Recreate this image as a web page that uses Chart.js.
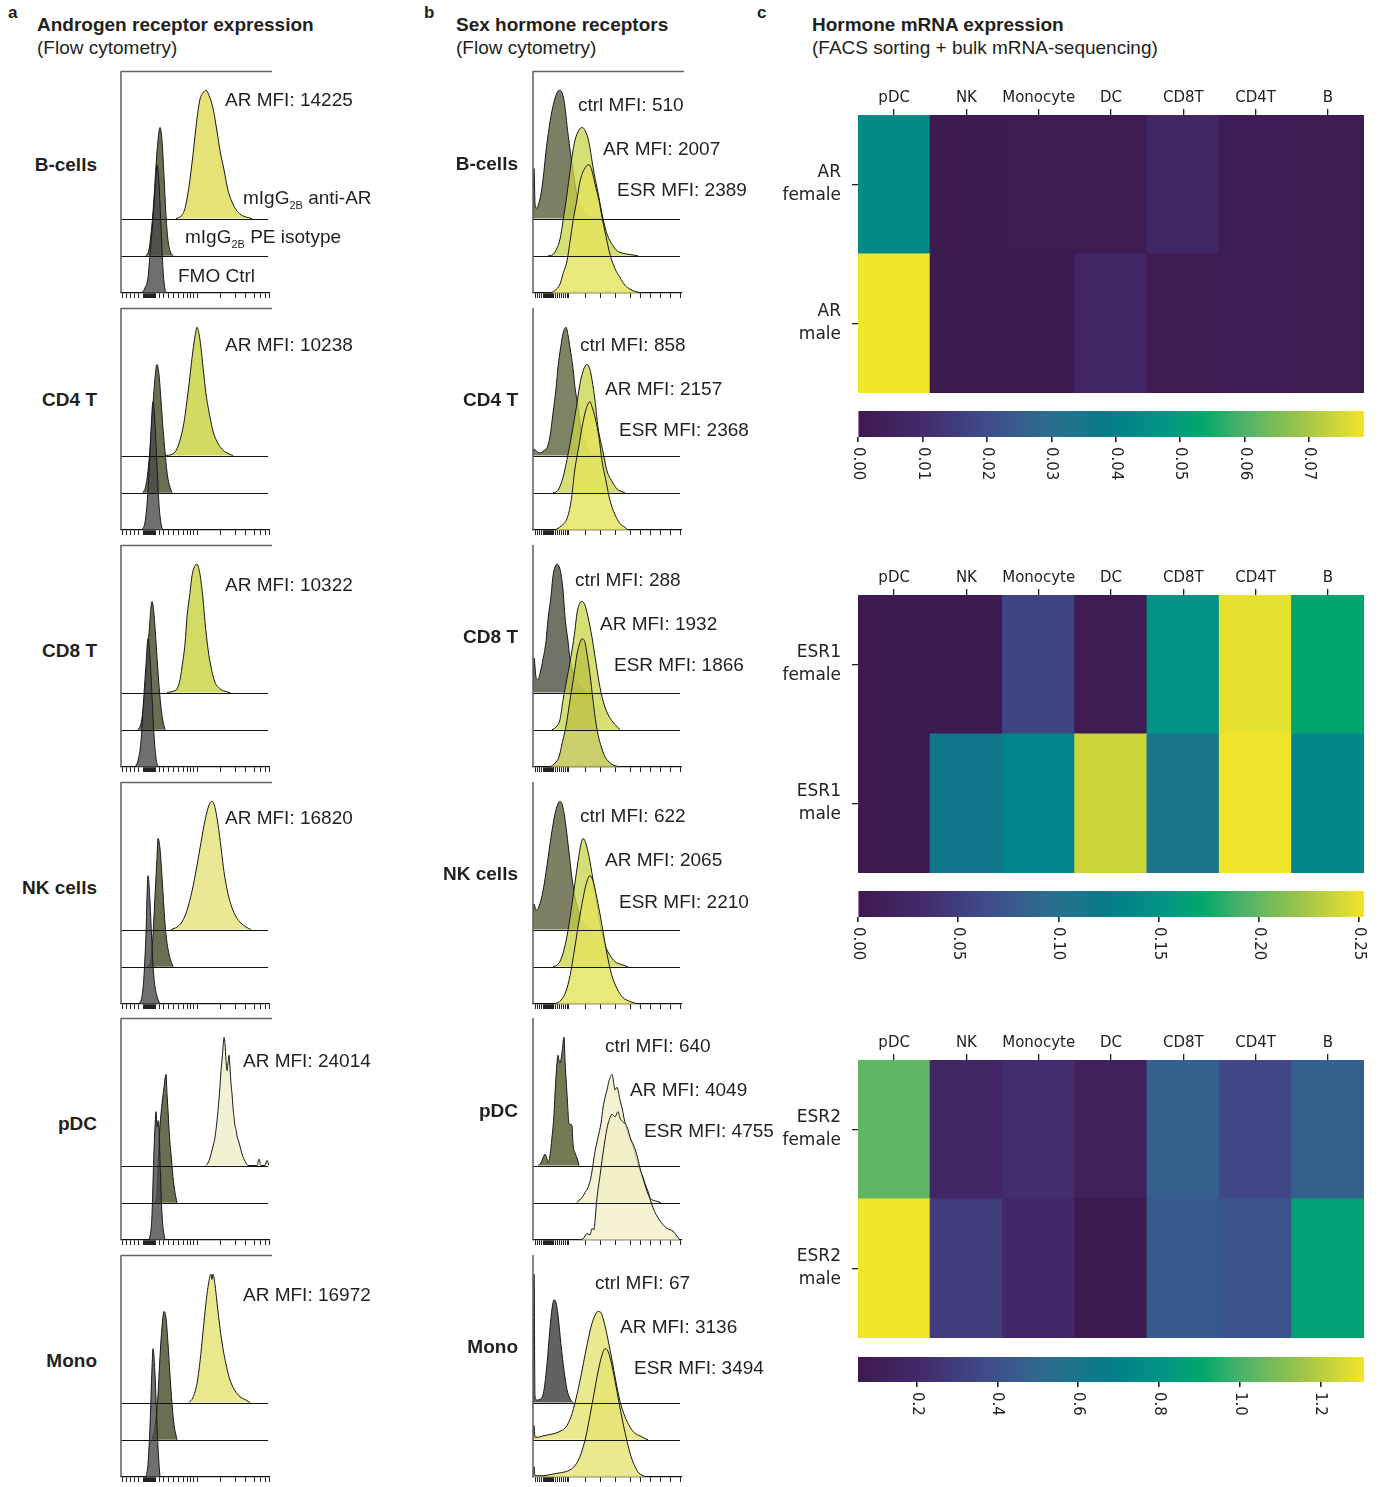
<!DOCTYPE html>
<html><head><meta charset="utf-8">
<script src="https://cdn.jsdelivr.net/npm/chart.js@4.4.0/dist/chart.umd.min.js"></script>
<style>
body{margin:0;background:#fff;}
#root{position:relative;width:1381px;height:1487px;overflow:hidden;font-family:'Liberation Sans',Arial,sans-serif;color:#231f20;}
.t{position:absolute;white-space:nowrap;font-size:19px;line-height:20px;}
.b{font-weight:bold;}
.sub{font-size:11px;position:relative;top:5px;}
canvas{position:absolute;}
</style></head><body><div id="root"></div>
<script>
// ---------------- DATA ----------------
const cellTypes = ['B-cells','CD4 T','CD8 T','NK cells','pDC','Mono'];
const mfiAR_a  = [14225,10238,10322,16820,24014,16972];
const mfiCtrl_b = [510,858,288,622,640,67];
const mfiAR_b   = [2007,2157,1932,2065,4049,3136];
const mfiESR_b  = [2389,2368,1866,2210,4755,3494];

// histogram curves: [fluorescence channel, % of mode]
// panel a: anti-AR / isotype / FMO
const A_B_ar  = [[55,0],[60,2],[64,8],[68,25],[72,50],[76,78],[79,93],[82,98],[85,100],[88,96],[92,86],[96,68],[99,53],[103,38],[107,22],[111,13],[115,7],[120,3],[126,1],[131,0]];
const A_B_iso = [[25,0],[28,5],[31,25],[33,45],[35,70],[37,90],[39,100],[41,90],[43,62],[45,31],[47,12],[49,4],[52,0]];
const A_B_fmo = [[21,0],[24,4],[27,12],[29,30],[32,58],[34,80],[36,100],[38,85],[40,52],[42,18],[44,3],[46,0]];
const A_CD4_ar  = [[44,0],[51,1],[55,4],[59,12],[63,26],[66,43],[69,62],[71,76],[74,93],[76,100],[78,95],[80,84],[82,69],[85,48],[89,30],[92,19],[96,11],[101,5],[106,2],[112,0]];
const A_CD4_iso = [[22,0],[25,6],[28,25],[31,55],[33,80],[36,100],[38,92],[40,72],[42,50],[44,32],[46,16],[48,7],[51,0]];
const A_CD4_fmo = [[21,0],[24,6],[26,20],[28,45],[30,78],[32,100],[34,82],[36,50],[38,20],[40,5],[42,0]];
const A_CD8_ar  = [[46,0],[52,1],[56,3],[59,10],[61,20],[64,38],[66,59],[69,78],[71,91],[74,99],[76,100],[79,92],[82,73],[84,55],[87,34],[90,20],[94,8],[99,3],[104,1],[109,0]];
const A_CD8_iso = [[17,0],[20,5],[23,22],[26,52],[28,75],[31,100],[33,90],[35,68],[37,45],[39,25],[41,11],[44,0]];
const A_CD8_fmo = [[14,0],[17,5],[20,20],[22,45],[25,80],[27,100],[29,85],[31,55],[33,25],[35,7],[37,0]];
const A_NK_ar  = [[50,0],[56,2],[61,6],[66,15],[71,30],[76,50],[80,68],[84,85],[88,97],[91,100],[94,95],[97,82],[100,64],[103,45],[107,28],[111,17],[115,10],[120,5],[125,2],[130,0]];
const A_NK_iso = [[27,0],[30,6],[32,25],[34,55],[36,85],[37,100],[39,92],[41,70],[43,45],[45,25],[48,10],[52,0]];
const A_NK_fmo = [[18,0],[21,6],[23,22],[25,55],[27,100],[29,80],[31,45],[33,20],[36,6],[39,0]];
const A_pDC_ar  = [[85,0],[87,2],[89,6],[91,12],[93,18],[94,22],[96,35],[97,43],[99,62],[100,74],[101,82],[102,92],[103,100],[104,95],[105,82],[106,74],[107,80],[108,86],[109,76],[110,64],[111,56],[112,45],[113,38],[114,31],[115,28],[116,23],[118,18],[120,12],[121,9],[123,5],[125,2],[127,0],[136,0],[138,5],[140,0],[144,0],[146,4],[148,0]];
const A_pDC_iso = [[34,0],[36,8],[38,46],[39,60],[41,77],[43,90],[45,100],[46,85],[47,72],[48,58],[49,46],[50,38],[52,20],[54,8],[56,0]];
const A_pDC_fmo = [[28,0],[30,8],[31,20],[32,45],[33,70],[34,88],[35,100],[36,88],[37,93],[38,88],[39,62],[40,38],[41,20],[42,10],[44,0]];
const A_Mono_ar  = [[68,0],[72,4],[76,15],[79,32],[82,55],[85,78],[88,95],[90,100],[91,96],[92,100],[94,92],[96,78],[99,58],[102,42],[105,30],[108,20],[112,12],[116,7],[120,4],[125,2],[129,0]];
const A_Mono_iso = [[31,0],[34,10],[37,35],[39,65],[41,88],[43,100],[45,95],[47,75],[49,50],[51,28],[53,12],[56,0]];
const A_Mono_fmo = [[25,0],[27,10],[29,40],[31,85],[32,100],[34,80],[36,40],[38,10],[39,0]];

// panel b: ctrl / AR / ESR
const B_B_ctrl = [[0,0],[1,39],[2,12],[3,8],[5,10],[9,24],[14,59],[19,84],[24,98],[27,100],[31,92],[35,66],[40,37],[45,14],[50,5],[54,2],[60,1],[67,0]];
const B_B_ar   = [[15,0],[20,1],[24,6],[27,13],[30,27],[34,48],[37,66],[40,82],[42,90],[46,98],[49,100],[54,94],[57,84],[60,69],[64,53],[67,41],[70,29],[74,17],[79,9],[84,4],[90,2],[97,1],[105,0]];
const B_B_esr  = [[17,0],[22,2],[27,7],[30,15],[34,25],[37,40],[40,56],[44,73],[47,87],[51,96],[56,100],[59,95],[62,85],[66,72],[69,59],[73,44],[77,30],[82,19],[87,12],[92,6],[97,3],[103,1],[109,0]];
const B_CD4_ctrl = [[0,0],[1,5],[4,3],[7,2],[11,4],[14,6],[17,15],[20,33],[23,52],[25,69],[28,86],[30,95],[33,100],[35,94],[37,84],[40,68],[42,53],[45,38],[47,25],[51,13],[54,6],[60,1],[67,0]];
const B_CD4_ar   = [[20,0],[25,2],[30,12],[34,26],[37,38],[40,51],[44,70],[47,85],[51,97],[54,100],[57,96],[59,88],[62,72],[65,51],[70,32],[74,17],[79,9],[84,3],[92,0]];
const B_CD4_esr  = [[22,0],[28,3],[34,9],[38,22],[42,48],[46,66],[49,80],[53,94],[57,100],[59,96],[62,88],[66,72],[69,54],[73,38],[77,23],[82,12],[87,5],[92,2],[95,0]];
const B_CD8_ctrl = [[0,0],[1,27],[3,12],[5,10],[7,15],[10,26],[13,40],[15,57],[18,75],[20,91],[24,100],[27,96],[30,80],[32,59],[35,40],[37,26],[41,14],[44,8],[48,4],[52,0]];
const B_CD8_ar   = [[19,0],[24,3],[27,8],[30,23],[34,40],[39,62],[42,78],[44,91],[47,99],[49,100],[52,97],[55,88],[59,72],[63,52],[67,33],[71,20],[75,12],[80,6],[87,0]];
const B_CD8_esr  = [[17,0],[22,3],[26,8],[29,18],[33,32],[37,52],[41,72],[44,88],[47,97],[49,100],[52,97],[54,88],[57,72],[60,52],[63,34],[66,22],[69,14],[72,8],[76,4],[79,2],[87,0]];
const B_NK_ctrl = [[0,0],[1,20],[3,15],[6,18],[10,30],[14,50],[18,72],[22,90],[25,98],[27,100],[30,95],[33,80],[36,60],[39,40],[42,25],[46,13],[50,6],[55,2],[62,0]];
const B_NK_ar   = [[20,0],[25,2],[29,8],[33,20],[37,38],[41,60],[45,82],[48,96],[50,100],[53,96],[56,86],[60,68],[64,48],[68,30],[72,17],[77,9],[82,4],[88,2],[95,0]];
const B_NK_esr  = [[22,0],[28,3],[33,10],[37,22],[41,40],[45,60],[49,78],[53,93],[57,100],[60,96],[63,86],[67,70],[71,52],[75,35],[79,22],[84,12],[90,5],[97,2],[105,0]];
const B_pDC_ctrl = [[5,0],[8,2],[10,6],[12,9],[14,5],[15,2],[17,8],[19,22],[21,40],[22,56],[24,80],[25,86],[26,82],[27,80],[29,88],[31,100],[32,82],[33,68],[34,56],[36,33],[38,32],[39,31],[40,17],[42,10],[44,6],[46,0]];
const B_pDC_ar   = [[44,0],[46,2],[49,4],[52,8],[55,12],[58,20],[60,30],[62,40],[65,51],[68,62],[70,74],[72,82],[74,88],[76,95],[79,100],[81,92],[82,88],[84,90],[85,88],[87,80],[89,74],[91,66],[94,56],[97,50],[99,46],[102,38],[105,30],[107,25],[110,20],[112,15],[115,9],[117,4],[120,2],[125,1],[128,0]];
const B_pDC_esr  = [[45,0],[50,1],[54,5],[57,4],[59,9],[61,8],[62,15],[64,33],[67,50],[69,62],[72,78],[74,87],[76,93],[79,98],[82,96],[85,100],[87,95],[90,92],[93,90],[95,86],[98,78],[100,75],[104,66],[107,56],[110,48],[114,38],[117,32],[120,25],[123,20],[127,15],[130,12],[134,9],[137,8],[140,7],[142,5],[145,2],[147,0]];
const B_Mono_ctrl = [[0,0],[1,100],[2,5],[4,2],[8,3],[11,10],[14,30],[17,58],[19,73],[21,80],[23,78],[25,68],[28,45],[31,25],[34,10],[37,3],[40,0]];
const B_Mono_ar   = [[0,0],[1,11],[2,2],[5,2],[10,3],[16,4],[22,5],[28,7],[33,10],[38,18],[43,32],[48,50],[53,70],[58,88],[62,97],[65,100],[68,99],[71,92],[75,78],[79,62],[83,45],[87,30],[92,18],[97,10],[102,5],[107,3],[112,1],[115,0]];
const B_Mono_esr  = [[0,0],[1,8],[2,1],[10,1],[18,2],[25,3],[32,4],[38,6],[43,10],[48,18],[53,32],[57,48],[61,65],[65,82],[69,95],[72,100],[75,98],[78,90],[82,75],[86,58],[90,42],[94,28],[98,16],[102,8],[106,3],[110,1],[113,0]];

// flow axis tick channels
const ticksA = [1,5,9,13,17,22,23,24,25,26,27,28,29,30,31,32,33,34,38,43,47,52,57,62,66,69,72,76,99,114,124,133,139,144,148];
const ticksB = [2,4,6,8,10,11,12,13,14,15,16,17,18,19,20,22,24,26,28,30,32,34,35,52,67,82,97,107,117,127,137,147];

// heatmaps
const hmCols = ['pDC','NK','Monocyte','DC','CD8T','CD4T','B'];
const AR_female   = [0.044,0.0006,0.0008,0.0008,0.0075,0.002,0.0015];
const AR_male     = [0.0785,0.0005,0.0006,0.0075,0.0012,0.002,0.0015];
const ESR1_female = [0.002,0.002,0.055,0.003,0.152,0.248,0.170];
const ESR1_male   = [0.002,0.116,0.134,0.238,0.111,0.252,0.137];
const ESR2_female = [1.04,0.18,0.23,0.125,0.46,0.35,0.465];
const ESR2_male   = [1.308,0.30,0.20,0.063,0.44,0.41,0.88];
const cb1Ticks = [0,0.01,0.02,0.03,0.04,0.05,0.06,0.07];
const cb2Ticks = [0,0.05,0.10,0.15,0.20,0.25];
const cb3Ticks = [0.2,0.4,0.6,0.8,1.0,1.2];

// ---------------- LAYOUT / STYLE ----------------
const root = document.getElementById('root');
Chart.defaults.font.family = "'Liberation Sans', Arial, sans-serif";
const panelTops = [71,308,545,782,1018,1255];

function text(html, left, cy, cls, extra) {
  const d = document.createElement('div');
  d.className = 't ' + (cls||'');
  d.innerHTML = html;
  d.style.left = left + 'px';
  d.style.top = (cy - 10) + 'px';
  if (extra) Object.assign(d.style, extra);
  root.appendChild(d);
  return d;
}
function rtext(html, right, cy, cls) {
  return text(html, 0, cy, cls, {width: right + 'px', textAlign: 'right'});
}
function mkCanvas(l, t, w, h) {
  const c = document.createElement('canvas');
  c.width = w; c.height = h;
  Object.assign(c.style, {left: l+'px', top: t+'px', width: w+'px', height: h+'px'});
  root.appendChild(c);
  return c;
}

const framePlugin = {
  id: 'frame',
  afterDatasetsDraw(chart, args, opts) {
    const {ctx, chartArea: a, scales: {y}} = chart;
    ctx.save();
    ctx.strokeStyle = '#111'; ctx.lineWidth = 1.2;
    [29, 58].forEach(off => {
      const py = Math.round(y.getPixelForValue(off)) + 0.5;
      ctx.beginPath(); ctx.moveTo(a.left, py); ctx.lineTo(a.right - 1, py); ctx.stroke();
    });
    ctx.strokeStyle = '#666'; ctx.lineWidth = 1.6;
    ctx.beginPath(); ctx.moveTo(a.left, a.top); ctx.lineTo(a.left, a.bottom); ctx.stroke();
    if (opts.topLine) {
      ctx.beginPath(); ctx.moveTo(a.left, a.top + 0.5); ctx.lineTo(a.right + 3, a.top + 0.5); ctx.stroke();
    }
    ctx.restore();
  }
};

function histChart(left, top, curves, fills, ticks, topLine) {
  const W = 160, H = 234;
  const cv = mkCanvas(left - 6, top - 2, W, H);
  const offsets = [58, 29, 0];
  const datasets = [2, 1, 0].map(i => ({
    data: curves[i].map(([c, p]) => ({x: c, y: p + offsets[i]})),
    fill: {value: offsets[i]},
    backgroundColor: fills[i],
    borderColor: '#161616', borderWidth: 1,
    pointRadius: 0, cubicInterpolationMode: 'monotone'
  }));
  new Chart(cv, {
    type: 'line', data: {datasets},
    options: {
      responsive: false, animation: false, events: [],
      layout: {padding: {left: 6, right: 6, top: 2, bottom: 0}},
      plugins: {legend: {display: false}, tooltip: {enabled: false}, frame: {topLine}},
      scales: {
        x: {type: 'linear', min: 0, max: 148,
            afterBuildTicks: s => { s.ticks = ticks.map(v => ({value: v})); },
            afterFit: s => { s.height = 10; },
            ticks: {display: false, autoSkip: false},
            grid: {drawOnChartArea: false, tickLength: 5, color: '#222', lineWidth: 1},
            border: {display: true, color: '#111', width: 1.3}},
        y: {display: false, min: 0, max: 173}
      }
    },
    plugins: [framePlugin]
  });
}

// colormap
const cmapStops = [[0,'#3d1a50'],[0.12,'#43296a'],[0.25,'#3f4b8a'],[0.37,'#2f6b8e'],[0.5,'#057d8b'],[0.6,'#009387'],[0.68,'#00a86b'],[0.76,'#4cb36a'],[0.87,'#99c24b'],[1,'#f3e52a']];
function hex2rgb(h){ return [1,3,5].map(i => parseInt(h.substr(i,2),16)); }
function cmap(t) {
  t = Math.max(0, Math.min(1, t));
  for (let i = 1; i < cmapStops.length; i++) {
    const [p1, c1] = cmapStops[i-1], [p2, c2] = cmapStops[i];
    if (t <= p2) {
      const f = (t - p1) / (p2 - p1), a = hex2rgb(c1), b = hex2rgb(c2);
      return 'rgb(' + a.map((v, k) => Math.round(v + (b[k] - v) * f)).join(',') + ')';
    }
  }
  return cmapStops[cmapStops.length-1][1];
}

function heatmap(top, gene, female, male, vmin, vmax) {
  const c = mkCanvas(760, top - 45, 612, 330);
  const col = v => cmap((v - vmin) / (vmax - vmin));
  const ds = (lab, arr) => ({label: lab, data: arr.map(() => 1), backgroundColor: arr.map(col),
    borderWidth: 0, barPercentage: 1, categoryPercentage: 1, inflateAmount: 0.6});
  new Chart(c, {
    type: 'bar',
    data: {labels: hmCols, datasets: [ds(gene + ' male', male), ds(gene + ' female', female)]},
    options: {
      responsive: false, animation: false, events: [],
      layout: {padding: {right: 8, bottom: 7}},
      plugins: {legend: {display: false}, tooltip: {enabled: false}},
      scales: {
        x: {stacked: true, position: 'top',
            grid: {offset: false, drawOnChartArea: false, tickLength: 6, color: '#222', lineWidth: 1.3},
            border: {display: false},
            ticks: {font: {family: 'DejaVu Sans', size: 15}, color: '#222', padding: 2, maxRotation: 0, autoSkip: false},
            afterFit: s => { s.height = 45; s.paddingLeft = 0; s.paddingRight = 0; }},
        y: {stacked: true, min: 0, max: 2,
            afterBuildTicks: s => { s.ticks = [{value: 0.5}, {value: 1.5}]; },
            ticks: {callback: v => v > 1 ? [gene, 'female'] : [gene, 'male'],
                    font: {family: 'DejaVu Sans', size: 17, lineHeight: 1.35}, color: '#222', padding: 11},
            grid: {drawOnChartArea: false, tickLength: 6, color: '#222', lineWidth: 1.3},
            border: {display: false},
            afterFit: s => { s.width = 98; s.paddingTop = 0; s.paddingBottom = 0; }}
      }
    }
  });
}

const cbLabels = {
  id: 'cbLabels',
  afterDraw(chart, args, opts) {
    const {ctx, scales: {x}, chartArea: a} = chart;
    ctx.save();
    ctx.fillStyle = '#222'; ctx.font = '15px "DejaVu Sans"';
    ctx.textAlign = 'left'; ctx.textBaseline = 'middle';
    x.ticks.forEach(t => {
      const px = x.getPixelForValue(t.value);
      ctx.save(); ctx.translate(px, a.bottom + 10); ctx.rotate(Math.PI / 2);
      ctx.fillText(t.value.toFixed(opts.decimals), 0, 0);
      ctx.restore();
    });
    ctx.restore();
  }
};

function colorbar(top, height, vmin, vmax, ticks, decimals) {
  const H = 90;
  const c = mkCanvas(840, top - 6, 540, H);
  new Chart(c, {
    type: 'bar',
    data: {labels: [''], datasets: [{data: [[vmin, vmax]],
      backgroundColor: ctx => {
        const a = ctx.chart.chartArea; if (!a) return '#000';
        const g = ctx.chart.ctx.createLinearGradient(a.left, 0, a.right, 0);
        cmapStops.forEach(([p, cc]) => g.addColorStop(p, cc));
        return g;
      }, borderWidth: 0, barPercentage: 1, categoryPercentage: 1}]},
    options: {
      indexAxis: 'y', responsive: false, animation: false, events: [],
      layout: {padding: {left: 18, right: 16, top: 6}},
      plugins: {legend: {display: false}, tooltip: {enabled: false}, cbLabels: {decimals}},
      scales: {
        x: {type: 'linear', min: vmin, max: vmax,
            afterBuildTicks: s => { s.ticks = ticks.map(v => ({value: v})); },
            ticks: {display: false},
            grid: {drawOnChartArea: false, tickLength: 5, color: '#222', lineWidth: 1.6},
            border: {display: false},
            afterFit: s => { s.height = H - 6 - height; }},
        y: {display: false}
      }
    },
    plugins: [cbLabels]
  });
}

// ---------------- BUILD ----------------
text('a', 8, 13, 'b', {fontSize: '17px'});
text('b', 424, 13, 'b', {fontSize: '17px'});
text('c', 757, 13, 'b', {fontSize: '17px'});
text('Androgen receptor expression', 37, 25, 'b');
text('(Flow cytometry)', 37, 48);
text('Sex hormone receptors', 456, 25, 'b');
text('(Flow cytometry)', 456, 48);
text('Hormone mRNA expression', 812, 25, 'b');
text('(FACS sorting + bulk mRNA-sequencing)', 812, 48);

const curvesA = [[A_B_ar,A_B_iso,A_B_fmo],[A_CD4_ar,A_CD4_iso,A_CD4_fmo],[A_CD8_ar,A_CD8_iso,A_CD8_fmo],
                 [A_NK_ar,A_NK_iso,A_NK_fmo],[A_pDC_ar,A_pDC_iso,A_pDC_fmo],[A_Mono_ar,A_Mono_iso,A_Mono_fmo]];
const curvesB = [[B_B_ctrl,B_B_ar,B_B_esr],[B_CD4_ctrl,B_CD4_ar,B_CD4_esr],[B_CD8_ctrl,B_CD8_ar,B_CD8_esr],
                 [B_NK_ctrl,B_NK_ar,B_NK_esr],[B_pDC_ctrl,B_pDC_ar,B_pDC_esr],[B_Mono_ctrl,B_Mono_ar,B_Mono_esr]];
const iso = 'rgba(70,74,40,0.8)', fmo = 'rgba(75,75,75,0.8)';
const fillsA = [
  ['rgba(225,222,95,0.85)', iso, fmo],
  ['rgba(205,215,80,0.9)', iso, fmo],
  ['rgba(205,215,82,0.9)', iso, fmo],
  ['rgba(232,228,130,0.85)', iso, fmo],
  ['rgba(240,238,200,0.8)', iso, fmo],
  ['rgba(230,228,120,0.85)', iso, fmo]
];
const fillsB = [
  ['rgba(90,95,60,0.8)', 'rgba(200,212,70,0.75)', 'rgba(228,226,90,0.8)'],
  ['rgba(95,100,62,0.8)', 'rgba(200,212,70,0.75)', 'rgba(228,226,90,0.8)'],
  ['rgba(82,84,68,0.82)', 'rgba(200,212,70,0.75)', 'rgba(190,195,70,0.8)'],
  ['rgba(92,96,60,0.8)', 'rgba(200,212,70,0.75)', 'rgba(228,226,90,0.8)'],
  ['rgba(85,90,45,0.82)', 'rgba(240,238,195,0.75)', 'rgba(240,238,195,0.75)'],
  ['rgba(70,70,70,0.85)', 'rgba(230,228,115,0.8)', 'rgba(230,228,115,0.8)']
];
const labA_y = [165,400,651,888,1124,1361];
const labB_y = [164,400,637,874,1111,1347];
const mfiA_pos = [[225,100],[225,345],[225,585],[225,818],[243,1061],[243,1295]];
const ctrlB_pos = [[578,105],[580,345],[575,580],[580,816],[605,1046],[595,1283]];
const arB_pos = [[603,149],[605,389],[600,624],[605,860],[630,1090],[620,1327]];
const esrB_pos = [[617,190],[619,430],[614,665],[619,902],[644,1131],[634,1368]];

cellTypes.forEach((ct, i) => {
  histChart(121, panelTops[i], curvesA[i], fillsA[i], ticksA, true);
  histChart(533, panelTops[i], curvesB[i], fillsB[i], ticksB, i === 0);
  rtext(ct, 97, labA_y[i], 'b');
  rtext(ct, 518, labB_y[i], 'b');
  text('AR MFI: ' + mfiAR_a[i], mfiA_pos[i][0], mfiA_pos[i][1]);
  text('ctrl MFI: ' + mfiCtrl_b[i], ctrlB_pos[i][0], ctrlB_pos[i][1]);
  text('AR MFI: ' + mfiAR_b[i], arB_pos[i][0], arB_pos[i][1]);
  text('ESR MFI: ' + mfiESR_b[i], esrB_pos[i][0], esrB_pos[i][1]);
});
text('mIgG<span class="sub">2B</span> anti-AR', 243, 198);
text('mIgG<span class="sub">2B</span> PE isotype', 185, 237);
text('FMO Ctrl', 178, 276);

heatmap(115, 'AR', AR_female, AR_male, 0, 0.0785);
heatmap(595, 'ESR1', ESR1_female, ESR1_male, 0, 0.2526);
heatmap(1060, 'ESR2', ESR2_female, ESR2_male, 0.055, 1.308);
colorbar(411, 26, 0, 0.0785, cb1Ticks, 2);
colorbar(891, 26, 0, 0.2526, cb2Ticks, 2);
colorbar(1357, 25, 0.055, 1.308, cb3Ticks, 1);
</script></body></html>
